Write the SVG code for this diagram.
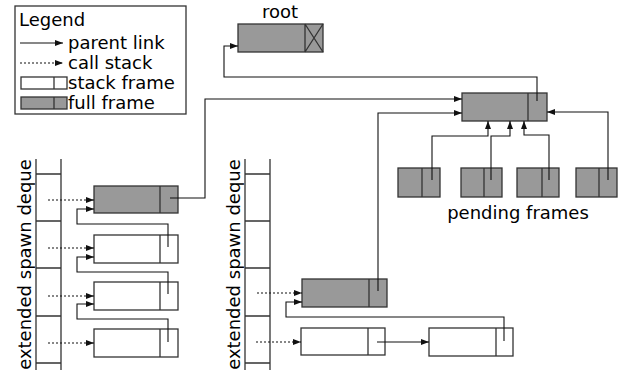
<svg xmlns="http://www.w3.org/2000/svg" width="622" height="377" viewBox="0 0 622 377">
<style>
  text{font-family:"DejaVu Sans","Liberation Sans",sans-serif;font-size:18px;fill:#000}
  .box{fill:#fff;stroke:#333;stroke-width:1.3}
  .full{fill:#999;stroke:#333;stroke-width:1.3}
  .div{stroke:#333;stroke-width:1.3;fill:none}
  .dq{stroke:#333;stroke-width:1.3;fill:none}
  .link{stroke:#111;stroke-width:1.1;fill:none;marker-end:url(#ah)}
  .call{stroke:#111;stroke-width:1.1;fill:none;stroke-dasharray:2 2;marker-end:url(#ah)}
</style>
<defs>
  <marker id="ah" viewBox="0 0 8 6" refX="8" refY="3" markerWidth="8" markerHeight="6" orient="auto" markerUnits="userSpaceOnUse">
    <path d="M0,0 L8,3 L0,6 z" fill="#111"/>
  </marker>
</defs>
<rect x="0" y="0" width="622" height="377" fill="#fff"/>

<g id="legend">
  <rect x="15" y="6" width="171" height="108" fill="#fff" stroke="#333" stroke-width="1.3"/>
  <text x="19" y="26">Legend</text>
  <path class="link" d="M20,43 H63"/>
  <text x="68" y="49">parent link</text>
  <path class="call" d="M20,63 H63"/>
  <text x="68" y="69">call stack</text>
  <rect class="box" x="21" y="77" width="46" height="12"/>
  <path class="div" d="M54,77 V89"/>
  <text x="68" y="89">stack frame</text>
  <rect class="full" x="21" y="97" width="46" height="12"/>
  <path class="div" d="M54,97 V109"/>
  <text x="68" y="109">full frame</text>
</g>

<g id="root">
  <text x="280" y="18" text-anchor="middle">root</text>
  <rect class="full" x="238" y="24" width="85" height="28"/>
  <path class="div" d="M305,24 V52 M305,24 L323,52 M323,24 L305,52"/>
</g>

<g id="top-frame">
  <rect class="full" x="462" y="93" width="85" height="28"/>
  <path class="div" d="M528,93 V121"/>
</g>

<g id="pending-frames">
  <rect class="full" x="398" y="168" width="42" height="29"/>
  <path class="div" d="M422,168 V197"/>
  <rect class="full" x="461" y="168" width="41" height="29"/>
  <path class="div" d="M484,168 V197"/>
  <rect class="full" x="517" y="168" width="42" height="29"/>
  <path class="div" d="M542,168 V197"/>
  <rect class="full" x="576" y="168" width="41" height="29"/>
  <path class="div" d="M599,168 V197"/>
  <text x="518" y="219" text-anchor="middle">pending frames</text>
</g>

<g id="deque1">
  <text transform="translate(31,264.5) rotate(-90)" text-anchor="middle">extended spawn deque</text>
  <path class="dq" d="M36,159 V370 M61,159 V370 M36,174 H61 M36,221 H61 M36,268 H61 M36,316 H61 M36,363 H61"/>
</g>

<g id="deque1-frames">
  <rect class="full" x="94" y="186" width="84" height="27"/>
  <path class="div" d="M160,186 V213"/>
  <rect class="box" x="94" y="235" width="84" height="28"/>
  <path class="div" d="M160,235 V263"/>
  <rect class="box" x="94" y="282" width="84" height="28"/>
  <path class="div" d="M160,282 V310"/>
  <rect class="box" x="94" y="329" width="84" height="28"/>
  <path class="div" d="M160,329 V357"/>
</g>

<g id="deque2">
  <text transform="translate(240,264.5) rotate(-90)" text-anchor="middle">extended spawn deque</text>
  <path class="dq" d="M245,159 V370 M270,159 V370 M245,174 H270 M245,221 H270 M245,268 H270 M245,316 H270 M245,363 H270"/>
</g>

<g id="deque2-frames">
  <rect class="full" x="302" y="279" width="85" height="28"/>
  <path class="div" d="M369,279 V307"/>
  <rect class="box" x="301" y="328" width="84" height="27"/>
  <path class="div" d="M368,328 V355"/>
  <rect class="box" x="429" y="328" width="84" height="28"/>
  <path class="div" d="M496,328 V356"/>
</g>

<g id="connectors">
  <path class="call" d="M48,200 H94"/>
  <path class="call" d="M48,248 H94"/>
  <path class="call" d="M48,296 H94"/>
  <path class="call" d="M48,343 H94"/>
  <path class="link" d="M168,247 V224 H77 V209 H94"/>
  <path class="link" d="M168,294 V272 H77 V257 H94"/>
  <path class="link" d="M168,342 V319 H77 V304 H94"/>
  <path class="link" d="M170,198 H205 V99 H462"/>
  <path class="call" d="M257,293 H302"/>
  <path class="call" d="M256,342 H301"/>
  <path class="link" d="M504,341 V317 H286 V302 H302"/>
  <path class="link" d="M377,342 H429"/>
  <path class="link" d="M378,291 V113 H462"/>
  <path class="link" d="M537,101 V77 H224 V46 H238"/>
  <path class="link" d="M432,180 V136 H488 V121"/>
  <path class="link" d="M491,180 V136 H510 V121"/>
  <path class="link" d="M549,180 V135 H524 V121"/>
  <path class="link" d="M608,180 V112 H547"/>
</g>
</svg>
